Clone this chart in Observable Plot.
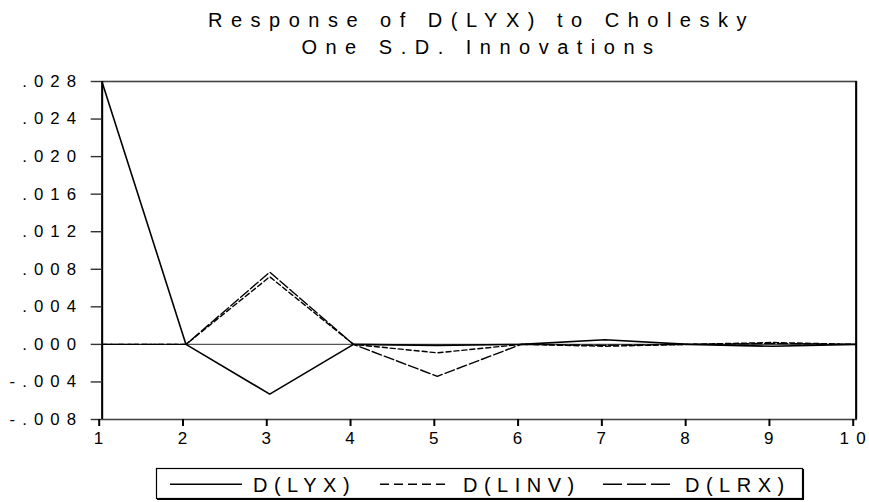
<!DOCTYPE html>
<html>
<head>
<meta charset="utf-8">
<script src="https://cdn.jsdelivr.net/npm/d3@7"></script>
<script src="https://cdn.jsdelivr.net/npm/@observablehq/plot@0.6"></script>
<style>
  html, body { margin: 0; padding: 0; background: #fff; }
  body { width: 869px; height: 502px; position: relative; overflow: hidden; font-family: "Liberation Sans", Arial, sans-serif; }
  #title, #chart, #legend { position: absolute; left: 0; }
  #title { top: 0; }
  #chart { top: 60px; }
  #legend { top: 460px; }
  svg.irf g[aria-label="y-axis tick label"] text { letter-spacing: 7.1px; }
  svg.irf g[aria-label="x-axis tick label"] text { letter-spacing: 1.2px; font-size: 17px; }
</style>
</head>
<body>
<svg id="title" width="869" height="60"></svg>
<div id="chart"></div>
<svg id="legend" width="869" height="42"></svg>
<script>
// ---- data ----
const titleLines = ["Response of D(LYX) to Cholesky", "One S.D. Innovations"];
const periods = [1, 2, 3, 4, 5, 6, 7, 8, 9, 10];
const lyx  = [0.0279, 0.0000, -0.0053, 0.0000, -0.0001, 0.0000, 0.0005, 0.0000, -0.0002, 0.0000];
const linv = [0.0000, 0.0000,  0.0072, 0.0000, -0.0009, 0.0000, -0.0002, 0.0000, 0.0002, 0.0000];
const lrx  = [0.0000, 0.0000,  0.0077, 0.0000, -0.0034, 0.0000, -0.0001, 0.0000, 0.0001, 0.0000];
const yTicks = [-0.008, -0.004, 0.000, 0.004, 0.008, 0.012, 0.016, 0.020, 0.024, 0.028];
const seriesNames = ["D(LYX)", "D(LINV)", "D(LRX)"];

// ---- styles ----
const chartDash  = [null, "5,3", "10,3"];
const legendDash = [null, "9,5", "19,5"];
const fmtY = d => d3.format(".3f")(d).replace("\u2212", "-").replace("0.", ".");
const fmtX = d => String(d).split("").join(" ");

const xOf = (d, i) => periods[i];

const chart = Plot.plot({
  width: 869,
  height: 400,
  marginTop: 21,
  marginBottom: 41,
  marginLeft: 101.7,
  marginRight: 13.3,
  className: "irf",
  style: { fontFamily: '"Liberation Sans", Arial, sans-serif', fontSize: "16.8px", color: "#000", background: "#fff" },
  x: { domain: [periods[0], periods[periods.length - 1]], label: null },
  y: { domain: [yTicks[0], yTicks[yTicks.length - 1]], label: null },
  marks: [
    Plot.frame({ stroke: "#444", strokeWidth: 1.6 }),
    Plot.ruleX([periods[0], periods[periods.length - 1]], { stroke: "#000", strokeWidth: 2 }),
    Plot.ruleY([0], { stroke: "#555", strokeWidth: 1.1 }),
    Plot.axisY({ ticks: yTicks, tickSize: 11, tickPadding: 8, tickFormat: fmtY, stroke: "#333", strokeWidth: 1.4 }),
    Plot.axisX({ ticks: periods, tickSize: 7, tickPadding: 5, tickFormat: fmtX, stroke: "#000", strokeWidth: 2, dx: -3 }),
    Plot.line(lyx,  { x: xOf, y: d => d, stroke: "#000", strokeWidth: 1.6 }),
    Plot.line(linv, { x: xOf, y: d => d, stroke: "#000", strokeWidth: 1.4, strokeDasharray: chartDash[1] }),
    Plot.line(lrx,  { x: xOf, y: d => d, stroke: "#000", strokeWidth: 1.4, strokeDasharray: chartDash[2] })
  ]
});
document.getElementById("chart").appendChild(chart);

// ---- title ----
const NS = "http://www.w3.org/2000/svg";
const tsvg = document.getElementById("title");
const titleBase = [26.7, 53.5];
titleLines.forEach((t, i) => {
  const el = document.createElementNS(NS, "text");
  el.setAttribute("x", 481.5);
  el.setAttribute("y", titleBase[i]);
  el.setAttribute("text-anchor", "middle");
  el.setAttribute("font-size", "20");
  el.setAttribute("font-family", '"Liberation Sans", Arial, sans-serif');
  el.setAttribute("letter-spacing", "8.5");
  el.textContent = t;
  tsvg.appendChild(el);
});

// ---- legend ----
const lsvg = document.getElementById("legend");
const box = document.createElementNS(NS, "rect");
box.setAttribute("x", 156.5); box.setAttribute("y", 8.5);
box.setAttribute("width", 646); box.setAttribute("height", 30);
box.setAttribute("fill", "#fff"); box.setAttribute("stroke", "#000"); box.setAttribute("stroke-width", 1.2);
lsvg.appendChild(box);
const shR = document.createElementNS(NS, "path");
shR.setAttribute("d", "M803.3,9 V39.3 H157");
shR.setAttribute("fill", "none"); shR.setAttribute("stroke", "#000"); shR.setAttribute("stroke-width", 1.5);
lsvg.appendChild(shR);
const sampleX = [[170, 242], [380, 447], [603, 670]];
const labelX = [253, 463, 685];
seriesNames.forEach((name, i) => {
  const ln = document.createElementNS(NS, "line");
  ln.setAttribute("x1", sampleX[i][0]); ln.setAttribute("x2", sampleX[i][1]);
  ln.setAttribute("y1", 24.3); ln.setAttribute("y2", 24.3);
  ln.setAttribute("stroke", "#000"); ln.setAttribute("stroke-width", 1.4);
  if (legendDash[i]) ln.setAttribute("stroke-dasharray", legendDash[i]);
  lsvg.appendChild(ln);
  const tx = document.createElementNS(NS, "text");
  tx.setAttribute("x", labelX[i]); tx.setAttribute("y", 31.7);
  tx.setAttribute("font-size", "20");
  tx.setAttribute("font-family", '"Liberation Sans", Arial, sans-serif');
  tx.setAttribute("letter-spacing", "6.5");
  tx.textContent = name;
  lsvg.appendChild(tx);
});
</script>
</body>
</html>
